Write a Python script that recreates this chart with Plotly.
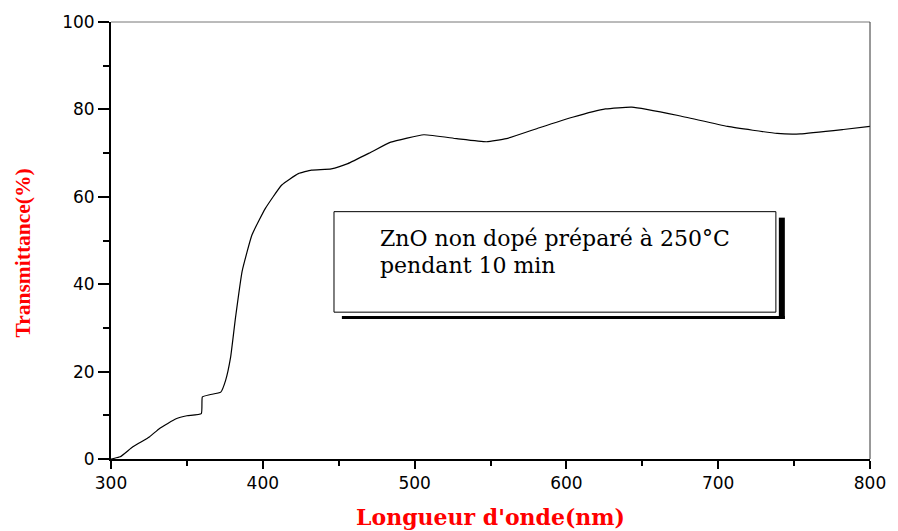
import plotly.graph_objects as go

# Data
wavelength = [300, 306, 314.4, 325.5, 332, 342.9, 350, 359.5, 360.2, 365, 372.3, 375.5, 378.8,
              382, 386.4, 392.9, 401.6, 412.5, 423.4, 432.1, 445.1, 456, 471.2, 484.3, 506.1,
              527.8, 547.4, 560.4, 582.2, 604, 625.7, 643.1, 673.6, 706.2, 738.8, 754.1, 782.4, 800]
transmittance = [0, 0.5, 2.8, 5.1, 7.0, 9.2, 9.9, 10.4, 14.2, 14.7, 15.3, 18, 23.3,
                 32.3, 43, 51.3, 57.3, 62.7, 65.3, 66.1, 66.4, 67.6, 70.2, 72.5, 74.2,
                 73.3, 72.6, 73.3, 75.8, 78.2, 80.1, 80.5, 78.6, 76.1, 74.5, 74.4, 75.4, 76.1]

x_ticks = [300, 400, 500, 600, 700, 800]
y_ticks = [0, 20, 40, 60, 80, 100]
legend_lines = ["ZnO non dopé préparé à 250°C", "pendant 10 min"]
x_title = "Longueur d'onde(nm)"
y_title = "Transmittance(%)"

fig = go.Figure()
fig.add_trace(go.Scatter(x=wavelength, y=transmittance, mode="lines",
                         line=dict(color="black", width=1.2, shape="spline", smoothing=0.4),
                         showlegend=False, hoverinfo="skip"))

fig.update_layout(
    width=898, height=531,
    margin=dict(l=111, r=21, t=19, b=72),
    plot_bgcolor="white", paper_bgcolor="white",
    font=dict(family="DejaVu Sans, Arial", size=17, color="black"),
    xaxis=dict(range=[300, 800], tickvals=x_ticks, ticks="outside", ticklen=8, tickwidth=1.5,
               tickcolor="black", showline=True, linewidth=2, linecolor="black",
               showgrid=False, zeroline=False,
               minor=dict(dtick=50, ticks="outside", ticklen=5, tickwidth=1.5, tickcolor="black")),
    yaxis=dict(range=[0, 100], tickvals=y_ticks, ticks="outside", ticklen=11, tickwidth=1.5,
               tickcolor="black", showline=True, linewidth=2, linecolor="black",
               showgrid=False, zeroline=False,
               minor=dict(dtick=10, ticks="outside", ticklen=6, tickwidth=1.5, tickcolor="black")),
)

# axis titles
fig.add_annotation(xref="paper", yref="paper", x=0.5, y=0, xanchor="center", yanchor="middle",
                   yshift=-58, text=f"<b>{x_title}</b>", showarrow=False,
                   font=dict(family="DejaVu Serif, Times New Roman", size=22, color="red"))
fig.add_annotation(xref="paper", yref="paper", x=0, y=0.5, xanchor="center", yanchor="middle",
                   xshift=-89, yshift=-13, textangle=-90, text=f"<b>{y_title}</b>", showarrow=False,
                   font=dict(family="Liberation Serif, Times New Roman", size=21.5, color="red"))

# top and right frame lines
fig.add_shape(type="line", xref="paper", yref="paper", x0=0, x1=1, y0=1, y1=1,
              line=dict(color="#777777", width=1))
fig.add_shape(type="line", xref="paper", yref="paper", x0=1, x1=1, y0=0, y1=1,
              line=dict(color="#333333", width=1))

# legend box with shadow
fig.add_shape(type="rect", xref="x", yref="y", x0=739.95, x1=743.9, y0=32.05, y1=55.23,
              line=dict(width=0), fillcolor="black")
fig.add_shape(type="rect", xref="x", yref="y", x0=452.1, x1=743.9, y0=32.05, y1=32.73,
              line=dict(width=0), fillcolor="black")
fig.add_shape(type="rect", xref="x", yref="y", x0=446.9, x1=738.0, y0=33.6, y1=56.6,
              line=dict(color="black", width=1), fillcolor="white")
fig.add_annotation(x=476.2, y=50.45, xref="x", yref="y", xanchor="left", yanchor="middle",
                   text=legend_lines[0], showarrow=False,
                   font=dict(family="DejaVu Serif, Times New Roman", size=22, color="black"))
fig.add_annotation(x=476.2, y=44.3, xref="x", yref="y", xanchor="left", yanchor="middle",
                   text=legend_lines[1], showarrow=False,
                   font=dict(family="DejaVu Serif, Times New Roman", size=22, color="black"))

fig.write_html("out.html", config={"displayModeBar": False},
               post_script="document.body.style.margin='0';document.body.style.overflow='hidden';")
